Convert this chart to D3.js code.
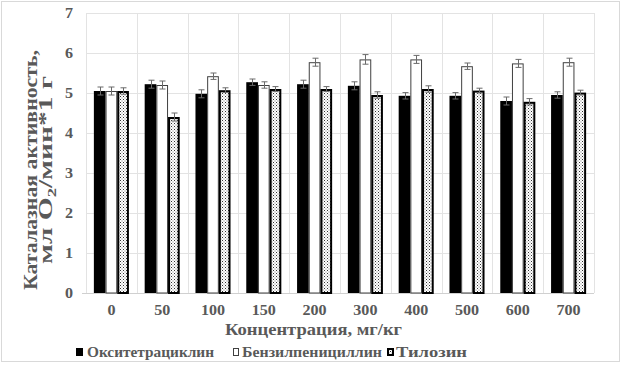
<!DOCTYPE html>
<html><head><meta charset="utf-8">
<script src="https://cdn.jsdelivr.net/npm/d3@7"></script>
<style>
html,body{margin:0;padding:0;background:#fff;}
svg{display:block;}
text{font-family:"Liberation Serif","Times New Roman",serif;font-weight:bold;fill:#595959;}
</style></head>
<body>
<svg id="chart" width="625" height="366"></svg>
<script>
const categories = ["0","50","100","150","200","300","400","500","600","700"];
const seriesNames = ["Окситетрациклин","Бензилпенициллин","Тилозин"];
const oxytetracycline = [5.05, 5.22, 4.98, 5.27, 5.22, 5.18, 4.93, 4.93, 4.80, 4.95];
const benzylpenicillin = [5.05, 5.20, 5.42, 5.20, 5.77, 5.84, 5.84, 5.67, 5.74, 5.77];
const tylosin = [5.05, 4.40, 5.07, 5.10, 5.10, 4.95, 5.10, 5.06, 4.78, 5.01];
const oxyErr = [0.10, 0.10, 0.10, 0.08, 0.10, 0.10, 0.08, 0.08, 0.10, 0.08];
const benzErr = [0.10, 0.10, 0.08, 0.08, 0.10, 0.12, 0.10, 0.08, 0.10, 0.10];
const tylErr = [0.08, 0.10, 0.06, 0.06, 0.06, 0.08, 0.08, 0.06, 0.08, 0.06];
const yTicks = [0,1,2,3,4,5,6,7];
const xTitle = "Концентрация,  мг/кг";
const yTitle1 = "Каталазная  активность,";
const yTitle2 = ["мл  O", "2", "/мин*1  г"];

const svg = d3.select("#chart");
const M = {left:86, right:594, top:13, bottom:293};
const SX = 1.15;

// border
svg.append("rect").attr("x",1.5).attr("y",1.5).attr("width",618).attr("height",360)
  .attr("fill","#fff").attr("stroke","#d9d9d9");

// pattern
const defs = svg.append("defs");
const pat = defs.append("pattern").attr("id","dots").attr("patternUnits","userSpaceOnUse")
  .attr("width",3).attr("height",3);
pat.append("rect").attr("width",3).attr("height",3).attr("fill","#fff");
pat.append("rect").attr("x",0).attr("y",0).attr("width",1).attr("height",1).attr("fill","#333");
pat.append("rect").attr("x",1.5).attr("y",1.5).attr("width",1).attr("height",1).attr("fill","#777");

const x0 = d3.scaleBand().domain(categories).range([M.left, M.right]).paddingInner(0).paddingOuter(0);
const groupFrac = 0.69;
const x1 = d3.scaleBand().domain([0,1,2]).range([0, x0.bandwidth()*groupFrac]);
const y = d3.scaleLinear().domain([0,7]).range([M.bottom, M.top]);

// gridlines
const grid = svg.append("g");
grid.selectAll("line.h").data(yTicks.slice(1)).join("line")
  .attr("x1",M.left).attr("x2",M.right).attr("y1",d=>Math.round(y(d))+0.5).attr("y2",d=>Math.round(y(d))+0.5)
  .attr("stroke","#e3e3e3").attr("stroke-width",1);
const bounds = categories.map(c=>x0(c)).concat([M.right]);
grid.selectAll("line.v").data(bounds).join("line")
  .attr("x1",d=>Math.round(d)+0.5).attr("x2",d=>Math.round(d)+0.5).attr("y1",M.top).attr("y2",M.bottom)
  .attr("stroke","#e3e3e3").attr("stroke-width",1);
// x axis line
svg.append("line").attr("x1",M.left-4).attr("x2",M.right).attr("y1",M.bottom+0.5).attr("y2",M.bottom+0.5)
  .attr("stroke","#d0d0d0");

// y tick labels
svg.append("g").selectAll("text").data(yTicks).join("text")
  .attr("transform",d=>`translate(73,${y(d)+5}) scale(${SX},1)`)
  .attr("text-anchor","end").attr("font-size",14).text(d=>d);

// x tick labels
svg.append("g").selectAll("text").data(categories).join("text")
  .attr("transform",d=>`translate(${x0(d)+x0.bandwidth()/2},315) scale(${SX},1)`)
  .attr("text-anchor","middle").attr("font-size",14).text(d=>d);

// bars
const series = [
  {vals:oxytetracycline, err:oxyErr, fill:"#000", stroke:"none", sw:0},
  {vals:benzylpenicillin, err:benzErr, fill:"#fff", stroke:"#404040", sw:1},
  {vals:tylosin, err:tylErr, fill:"url(#dots)", stroke:"#000", sw:2}
];
const offset = (x0.bandwidth()*(1-groupFrac))/2;
series.forEach((s,si)=>{
  const g = svg.append("g");
  g.selectAll("rect").data(categories).join("rect")
    .attr("x",(c)=>x0(c)+offset+x1(si)+s.sw/2)
    .attr("width",x1.bandwidth()-s.sw)
    .attr("y",(c,i)=>y(s.vals[i])+s.sw/2)
    .attr("height",(c,i)=>y(0)-y(s.vals[i])-s.sw/2)
    .attr("fill",s.fill).attr("stroke",s.stroke).attr("stroke-width",s.sw);
  const eg = svg.append("g").attr("stroke","#6a6a6a").attr("stroke-width",1);
  categories.forEach((c,i)=>{
    const cx = Math.round(x0(c)+offset+x1(si)+x1.bandwidth()/2)+0.5;
    const yt = y(s.vals[i]+s.err[i]), yb = y(s.vals[i]-s.err[i]);
    eg.append("line").attr("x1",cx).attr("x2",cx).attr("y1",yt).attr("y2",yb);
    eg.append("line").attr("x1",cx-3).attr("x2",cx+3).attr("y1",yt).attr("y2",yt);
    eg.append("line").attr("x1",cx-3).attr("x2",cx+3).attr("y1",yb).attr("y2",yb);
  });
});

// x title
svg.append("text").attr("x",225).attr("y",335).attr("font-size",17)
  .attr("textLength",177).attr("lengthAdjust","spacingAndGlyphs").text(xTitle);

// y title
const yt = svg.append("g").attr("transform","translate(37,170) rotate(-90)");
yt.append("text").attr("text-anchor","middle").attr("font-size",19)
  .attr("textLength",240).attr("lengthAdjust","spacingAndGlyphs").text(yTitle1);
const t2 = yt.append("text").attr("text-anchor","middle").attr("y",15).attr("font-size",19)
  .attr("textLength",188).attr("lengthAdjust","spacingAndGlyphs");
t2.append("tspan").text(yTitle2[0]);
t2.append("tspan").attr("font-size",12).attr("dy",4).text(yTitle2[1]);
t2.append("tspan").attr("dy",-4).text(yTitle2[2]);

// legend
const legend = [
  {x:76, w:7, fill:"#000", stroke:"none", sw:0, tx:87, tl:127},
  {x:233, w:6, fill:"#fff", stroke:"#404040", sw:1, tx:242, tl:140},
  {x:387, w:7, fill:"url(#dots)", stroke:"#000", sw:2, tx:396, tl:71}
];
legend.forEach((l,i)=>{
  svg.append("rect").attr("x",l.x+l.sw/2).attr("y",348+l.sw/2).attr("width",l.w-l.sw).attr("height",8-l.sw)
    .attr("fill",l.fill).attr("stroke",l.stroke).attr("stroke-width",l.sw);
  svg.append("text").attr("x",l.tx).attr("y",357).attr("font-size",14)
    .attr("textLength",l.tl).attr("lengthAdjust","spacingAndGlyphs").text(seriesNames[i]);
});
</script>
</body></html>
